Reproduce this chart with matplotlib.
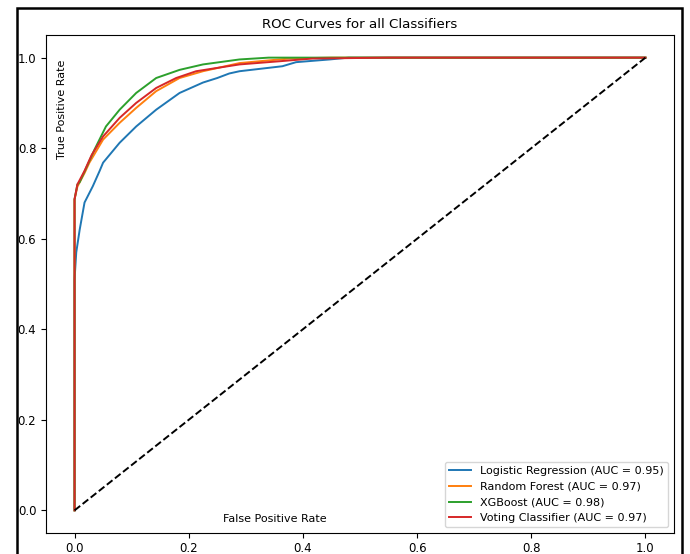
import matplotlib
matplotlib.use("Agg")
import matplotlib.pyplot as plt
from matplotlib.patches import Rectangle

# ROC curve points
lr_fpr = [0.0, 0.0, 0.003, 0.009, 0.0175, 0.032, 0.044, 0.050, 0.079, 0.108, 0.143, 0.184, 0.225, 0.25, 0.271, 0.289, 0.364, 0.388, 0.447, 0.48, 1.0]
lr_tpr = [0.0, 0.51, 0.57, 0.62, 0.68, 0.716, 0.75, 0.768, 0.812, 0.848, 0.885, 0.922, 0.945, 0.955, 0.965, 0.970, 0.981, 0.990, 0.996, 1.0, 1.0]

rf_fpr = [0.0, 0.0, 0.005, 0.0175, 0.026, 0.050, 0.079, 0.108, 0.143, 0.184, 0.225, 0.289, 0.376, 0.45, 1.0]
rf_tpr = [0.0, 0.687, 0.715, 0.745, 0.768, 0.819, 0.856, 0.889, 0.926, 0.955, 0.970, 0.988, 0.998, 1.0, 1.0]

xgb_fpr = [0.0, 0.0, 0.005, 0.009, 0.035, 0.055, 0.079, 0.108, 0.143, 0.184, 0.225, 0.289, 0.34, 1.0]
xgb_tpr = [0.0, 0.687, 0.72, 0.725, 0.797, 0.848, 0.885, 0.922, 0.955, 0.973, 0.985, 0.996, 1.0, 1.0]

vc_fpr = [0.0, 0.0, 0.005, 0.0175, 0.030, 0.050, 0.079, 0.108, 0.143, 0.178, 0.213, 0.289, 0.359, 0.417, 0.55, 1.0]
vc_tpr = [0.0, 0.687, 0.72, 0.75, 0.785, 0.826, 0.867, 0.900, 0.933, 0.955, 0.970, 0.985, 0.992, 0.998, 1.0, 1.0]

labels = ["Logistic Regression (AUC = 0.95)", "Random Forest (AUC = 0.97)",
          "XGBoost (AUC = 0.98)", "Voting Classifier (AUC = 0.97)"]
colors = ["#1f77b4", "#ff7f0e", "#2ca02c", "#d62728"]

fig = plt.figure(figsize=(6.9, 5.54), dpi=100)
ax = fig.add_axes([46/690, 21/554, 628/690, 498/554])

for fpr, tpr, lab, c in zip([lr_fpr, rf_fpr, xgb_fpr, vc_fpr],
                            [lr_tpr, rf_tpr, xgb_tpr, vc_tpr], labels, colors):
    ax.plot(fpr, tpr, color=c, label=lab, lw=1.4)

ax.plot([0, 1], [0, 1], 'k--', lw=1.4)
ax.set_title("ROC Curves for all Classifiers", fontsize=9.6, pad=5)
ax.text(0.365, 0.028, "False Positive Rate", transform=ax.transAxes,
        ha="center", va="center", fontsize=8)
ax.text(0.025, 0.851, "True Positive Rate", transform=ax.transAxes,
        ha="center", va="center", rotation=90, fontsize=8)
ax.legend(loc="lower right", fontsize=8)
ax.tick_params(labelsize=8.5)
ax.tick_params(axis="x", pad=3)

fig.patches.append(Rectangle((16.5/690, -0.1), (681.5-16.5)/690, 1.1 - 8.5/554,
                             transform=fig.transFigure, fill=False,
                             edgecolor="black", lw=1.8))

fig.savefig("out.png", dpi=100)
